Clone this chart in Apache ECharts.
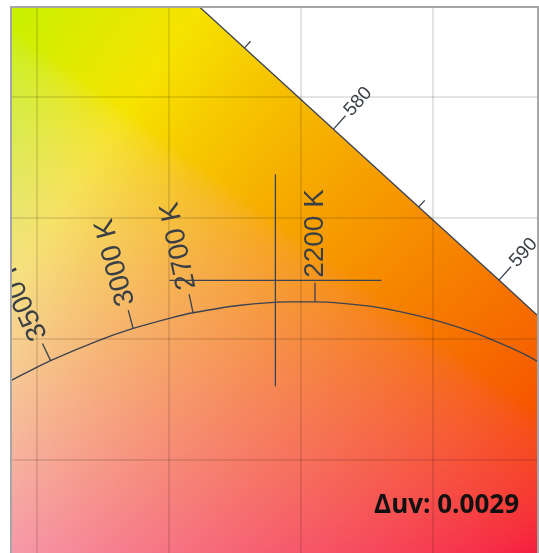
<!DOCTYPE html>
<html><head><meta charset="utf-8">
<script src="https://cdn.jsdelivr.net/npm/echarts@6/dist/echarts.min.js"></script>
<style>html,body{margin:0;padding:0;background:#fff}#c{width:539px;height:553px}</style>
</head><body><div id="c"></div>
<script>
// CIE 1931 spectral locus (nm, x, y)
const locusNm = [560, 565, 570, 575, 580, 585, 590, 595, 600];
const locusX  = [0.3731, 0.4087, 0.4441, 0.4788, 0.5125, 0.5448, 0.5752, 0.6029, 0.6270];
const locusY  = [0.6245, 0.5896, 0.5547, 0.5202, 0.4866, 0.4544, 0.4242, 0.3965, 0.3725];
const tickNm = [575, 580, 585, 590];
const tickLabelNm = [580, 590];
// Planckian locus
const planckK = [4000, 3800, 3700, 3500, 3200, 3000, 2800, 2700, 2500, 2300, 2200, 2100, 2000, 1900, 1800, 1700, 1600, 1500, 1400];
const planckX = [0.3805, 0.3898, 0.3948, 0.4053, 0.4232, 0.4366, 0.4514, 0.4593, 0.4765, 0.4953, 0.5055, 0.5160, 0.5269, 0.5381, 0.5496, 0.5609, 0.5720, 0.5857, 0.5988];
const planckY = [0.3767, 0.3824, 0.3852, 0.3909, 0.3991, 0.4042, 0.4087, 0.4107, 0.4137, 0.4152, 0.4152, 0.4146, 0.4133, 0.4111, 0.4081, 0.4043, 0.3998, 0.3931, 0.3846];
// labelled isotherms
const cctK = [3500, 3000, 2700, 2200];
const cctX = [0.4053, 0.4366, 0.4593, 0.5055];
const cctY = [0.3909, 0.4042, 0.4107, 0.4152];
// measured sample
const sampleX = 0.4905;
const sampleY = 0.4241;
const deltaUv = '0.0029';
// grid lines
const gridX = [0.40, 0.45, 0.50, 0.55];
const gridY = [0.35, 0.40, 0.45, 0.50];

// ---- styling ----
const X_MIN = 0.3907, X_MAX = 0.5900, Y_MIN = 0.3002, Y_MAX = 0.5367;
const LINE = '#3b4350', TEXT = '#3a3f46';
const isoAngle = [115, 105, 102, 90];
const specAngle = 48;
const LUM_CAP = 0.81, OUT_SCALE = 0.965;

function xyToRgb(x, y) {
  const X = x / y, Y = 1, Z = (1 - x - y) / y;
  let r = 3.2406 * X - 1.5372 * Y - 0.4986 * Z;
  let g = -0.9689 * X + 1.8758 * Y + 0.0415 * Z;
  let b = 0.0557 * X - 0.2040 * Y + 1.0570 * Z;
  r = Math.max(r, 0); g = Math.max(g, 0); b = Math.max(b, 0);
  const m = Math.max(r, g, b);
  r /= m; g /= m; b /= m;
  const L = 0.2126 * r + 0.7152 * g + 0.0722 * b;
  if (L > LUM_CAP) { const s = LUM_CAP / L; r *= s; g *= s; b *= s; }
  const gam = c => { c = c <= 0.0031308 ? 12.92 * c : 1.055 * Math.pow(c, 1 / 2.4) - 0.055; return Math.round(Math.min(1, Math.max(0, c)) * 255 * OUT_SCALE); };
  return 'rgb(' + gam(r) + ',' + gam(g) + ',' + gam(b) + ')';
}
const BG_STEP = 0.001;
const bgRows = [];
for (let y = Y_MIN - BG_STEP; y < Y_MAX + BG_STEP; y += BG_STEP) bgRows.push([X_MIN, y]);

const chart = echarts.init(document.getElementById('c'), null, { renderer: 'canvas' });

function tickGroup(base, angDeg, len, gap, label, fontSize) {
  const a = angDeg * Math.PI / 180, dx = Math.cos(a), dy = -Math.sin(a);
  const ch = [{ type: 'line', shape: { x1: base[0], y1: base[1], x2: base[0] + dx * len, y2: base[1] + dy * len }, style: { stroke: LINE, lineWidth: 1.3 } }];
  if (label) ch.push({ type: 'text', x: base[0] + dx * (len + gap), y: base[1] + dy * (len + gap), rotation: a,
    style: { text: label, fill: TEXT, font: fontSize + 'px "Liberation Sans", Arial, sans-serif', align: 'left', verticalAlign: 'middle' } });
  return { type: 'group', children: ch };
}

const option = {
  animation: false,
  grid: { left: 12, top: 8, width: 526, height: 572, containLabel: false, outerBoundsMode: 'none' },
  xAxis: { type: 'value', min: X_MIN, max: X_MAX, show: false },
  yAxis: { type: 'value', min: Y_MIN, max: Y_MAX, show: false },
  series: [
    { // chromaticity colour field
      type: 'custom', silent: true, z: 1, clip: true, encode: { x: 0, y: 1 },
      data: bgRows,
      renderItem: function (params, api) {
        const y0 = api.value(1);
        const p1 = api.coord([X_MIN, y0 + BG_STEP]);
        const p2 = api.coord([X_MAX, y0]);
        const stops = [];
        const n = 40;
        for (let i = 0; i <= n; i++) {
          const x = X_MIN + (X_MAX - X_MIN) * i / n;
          stops.push({ offset: i / n, color: xyToRgb(x, y0 + BG_STEP / 2) });
        }
        return { type: 'rect', shape: { x: p1[0], y: p1[1] - 0.5, width: p2[0] - p1[0], height: p2[1] - p1[1] + 1 },
          style: { fill: new echarts.graphic.LinearGradient(0, 0, 1, 0, stops) } };
      }
    },
    { // outside of spectral locus
      type: 'custom', silent: true, z: 2, clip: true, encode: { x: 0, y: 1 },
      data: [[locusX[0], locusY[0]]],
      renderItem: function (params, api) {
        const pts = locusX.map((x, i) => api.coord([x, locusY[i]]));
        pts.push(api.coord([0.75, locusY[locusY.length - 1]]));
        pts.push(api.coord([0.75, 0.75]));
        pts.push(api.coord([locusX[0], 0.75]));
        return { type: 'polygon', shape: { points: pts }, style: { fill: '#ffffff' } };
      }
    },
    { // grid lines
      type: 'line', z: 3, silent: true, data: [[0.2, 0.2]], showSymbol: false, symbol: 'none', lineStyle: { width: 0 },
      markLine: { silent: true, symbol: 'none', animation: false, label: { show: false },
        lineStyle: { color: 'rgba(0,0,0,0.14)', width: 1.5, type: 'solid' },
        data: gridX.map(v => ({ xAxis: v })).concat(gridY.map(v => ({ yAxis: v }))) }
    },
    { // spectral locus
      type: 'line', z: 4, silent: true, symbol: 'none',
      data: locusX.map((x, i) => [x, locusY[i]]),
      lineStyle: { color: LINE, width: 1.3 }
    },
    { // Planckian locus
      type: 'line', z: 4, silent: true, symbol: 'none', smooth: 0.3,
      data: planckX.map((x, i) => [x, planckY[i]]),
      lineStyle: { color: LINE, width: 1.3 }
    },
    { // wavelength ticks
      type: 'custom', z: 5, silent: true, clip: true, encode: { x: 0, y: 1 },
      data: tickNm.map(nm => { const i = locusNm.indexOf(nm); return [locusX[i], locusY[i], nm]; }),
      renderItem: function (params, api) {
        const nm = api.value(2);
        const lab = tickLabelNm.indexOf(nm) >= 0;
        return tickGroup(api.coord([api.value(0), api.value(1)]), specAngle, lab ? 18 : 9, 3, lab ? String(nm) : null, 19);
      }
    },
    { // isotherm ticks
      type: 'custom', z: 5, silent: true, clip: true, encode: { x: 0, y: 1 },
      data: cctK.map((k, i) => [cctX[i], cctY[i], k]),
      renderItem: function (params, api) {
        const i = params.dataIndex;
        return tickGroup(api.coord([api.value(0), api.value(1)]), isoAngle[i], 19, 5, api.value(2) + ' K', 28);
      }
    },
    { // sample crosshair
      type: 'custom', z: 6, silent: true, clip: true, encode: { x: 0, y: 1 },
      data: [[sampleX, sampleY]],
      renderItem: function (params, api) {
        const p = api.coord([api.value(0), api.value(1)]);
        const L = 106;
        return { type: 'group', children: [
          { type: 'line', shape: { x1: p[0] - L, y1: p[1], x2: p[0] + L, y2: p[1] }, style: { stroke: LINE, lineWidth: 1.3 } },
          { type: 'line', shape: { x1: p[0], y1: p[1] - L, x2: p[0], y2: p[1] + L }, style: { stroke: LINE, lineWidth: 1.3 } }
        ] };
      }
    }
  ],
  graphic: [
    { type: 'rect', z: 100, silent: true, shape: { x: 11, y: 7, width: 527, height: 600 }, style: { fill: 'none', stroke: '#a6a6a6', lineWidth: 2 } },
    { type: 'text', z: 101, silent: true, x: 519, y: 506, style: { text: '\u0394uv: ' + deltaUv, fill: '#111', font: 'bold 26px "Open Sans", sans-serif', align: 'right', verticalAlign: 'middle' } }
  ]
};
chart.setOption(option);
</script></body></html>
